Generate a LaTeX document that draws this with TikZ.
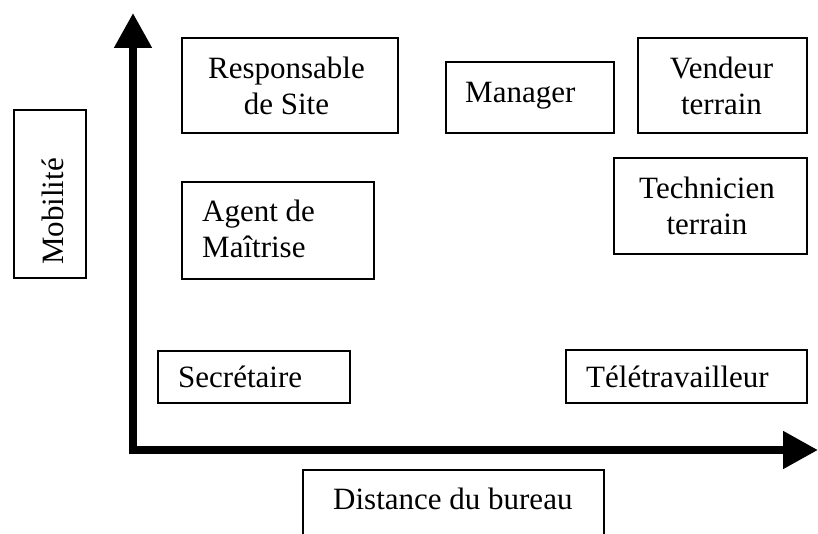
\documentclass[tikz,border=0pt]{standalone}
\usepackage{fontspec}
\setmainfont{Liberation Serif}
\usetikzlibrary{arrows.meta}
\begin{document}
\begin{tikzpicture}[x=1pt,y=-1pt,
  boxnode/.style={draw=black,line width=2pt,inner sep=0pt,anchor=north west,rectangle},
  txt/.style={inner sep=0pt,font=\fontsize{31}{36}\selectfont,text=black},
  axisline/.style={line width=8pt,-{Triangle[length=35pt,width=36pt]}}]
\useasboundingbox (0,0) rectangle (818,534);
\clip (0,0) rectangle (818,534);
% boxes
\node[boxnode,minimum width=216pt,minimum height=95pt] (bresp) at (181,37) {};
\node[boxnode,minimum width=168pt,minimum height=71pt] (bmgr) at (445,61) {};
\node[boxnode,minimum width=169pt,minimum height=95pt] (bvend) at (637,37) {};
\node[boxnode,minimum width=193pt,minimum height=96pt] (btech) at (613,157) {};
\node[boxnode,minimum width=192pt,minimum height=97pt] (bagent) at (181,181) {};
\node[boxnode,minimum width=192pt,minimum height=52pt] (bsecr) at (157,350) {};
\node[boxnode,minimum width=241pt,minimum height=53pt] (btele) at (565,349) {};
\node[boxnode,minimum width=72pt,minimum height=168pt] (bmob) at (13,109) {};
\node[boxnode,minimum width=301pt,minimum height=80pt] (bdist) at (302,469) {};
% texts (anchor=base is the baseline of the last line)
\node[txt,align=center,anchor=base] (tresp) at (286.5,115) {Responsable\\de Site};
\node[txt,anchor=base west] (tmgr) at (465,103) {Manager};
\node[txt,align=center,anchor=base] (tvend) at (721.5,115) {Vendeur\\terrain};
\node[txt,align=center,anchor=base] (ttech) at (707,235) {Technicien\\terrain};
\node[txt,align=left,anchor=base west] (tagent) at (202,258) {Agent de\\Maîtrise};
\node[txt,anchor=base west] (tsecr) at (178,387) {Secrétaire};
\node[txt,anchor=base west] (ttele) at (586,387) {Télétravailleur};
\node[txt,anchor=base west] (tdist) at (333,509) {Distance du bureau};
\node[txt,anchor=base west,rotate=90] (tmob) at (63,265) {Mobilité};
% axes
\coordinate (origin) at (133,450);
\coordinate (ytip) at (133,13);
\coordinate (xtip) at (818,450);
\draw[axisline] ([yshift=4pt]origin) -- (ytip);
\draw[axisline] ([xshift=-4pt]origin) -- (xtip);
\end{tikzpicture}
\end{document}
